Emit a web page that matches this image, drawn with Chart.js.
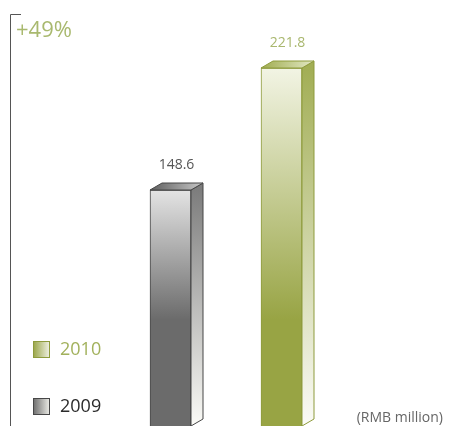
<!DOCTYPE html>
<html>
<head>
<meta charset="utf-8">
<script src="https://cdn.jsdelivr.net/npm/chart.js@4/dist/chart.umd.min.js"></script>
<style>
html, body { margin: 0; padding: 0; background: #fff; }
#wrap { width: 449px; height: 426px; position: relative; }
</style>
</head>
<body>
<div id="wrap"><canvas id="revenue"></canvas></div>
<script>
const years = ['2009', '2010'];
const revenue = [148.6, 221.8];
const growth_label = '+49%';
const unit_label = '(RMB million)';

const dark = ['#6b6b6b', '#98a444'];
const light = ['#e4e4e4', '#f2f4e4'];
const edge = ['#474747', '#8e9b3c'];
const side_top = ['#7d7d7d', '#a2ae55'];
const top_left = ['#5e5e5e', '#a0ac50'];
const top_right = ['#c8c8c8', '#e2e8c4'];
const label_color = ['#555555', '#a9b76e'];
const legend_text = ['#2b2b2b', '#a2b15c'];

const font = '"Open Sans", "Noto Sans", sans-serif';
const dx = 12, dy = 7;

function frontFill(ctx) {
    const chart = ctx.chart;
    const area = chart.chartArea;
    const i = ctx.dataIndex;
    if (!area) return dark[i];
    const top = chart.scales.y.getPixelForValue(ctx.raw);
    const g = chart.ctx.createLinearGradient(0, top, 0, area.top + area.height * 0.75);
    g.addColorStop(0, light[i]);
    g.addColorStop(1, dark[i]);
    return g;
}

// side and top faces, value labels
const depth = {
    id: 'depth',
    afterDatasetsDraw(chart) {
        const c = chart.ctx;
        const area = chart.chartArea;
        const meta = chart.getDatasetMeta(0);
        c.save();
        meta.data.forEach((bar, i) => {
            const left = bar.x - bar.width / 2;
            const right = bar.x + bar.width / 2;
            const top = bar.y;
            const bottom = area.bottom;

            let g = c.createLinearGradient(0, top, 0, bottom);
            g.addColorStop(0, side_top[i]);
            g.addColorStop(1, '#fbfbf7');
            c.beginPath();
            c.moveTo(right, top);
            c.lineTo(right + dx, top - dy);
            c.lineTo(right + dx, bottom - 7);
            c.lineTo(right, bottom);
            c.closePath();
            c.fillStyle = g;
            c.fill();
            c.lineWidth = 1;
            c.strokeStyle = edge[i];
            c.stroke();

            g = c.createLinearGradient(left, 0, right + dx, 0);
            g.addColorStop(0, top_left[i]);
            g.addColorStop(1, top_right[i]);
            c.beginPath();
            c.moveTo(left, top);
            c.lineTo(left + dx, top - dy);
            c.lineTo(right + dx, top - dy);
            c.lineTo(right, top);
            c.closePath();
            c.fillStyle = g;
            c.fill();
            c.stroke();

            c.fillStyle = label_color[i];
            c.font = '14px ' + font;
            c.textAlign = 'center';
            c.textBaseline = 'middle';
            c.fillText(revenue[i].toFixed(1), bar.x + dx / 2, top - 25);
        });
        c.restore();
    },
    afterDraw(chart) {
        const c = chart.ctx;
        c.save();
        // bracket axis
        c.strokeStyle = '#555';
        c.lineWidth = 1;
        c.beginPath();
        c.moveTo(21, 14.5);
        c.lineTo(10.5, 14.5);
        c.lineTo(10.5, 426);
        c.stroke();

        c.fillStyle = '#a9b96f';
        c.font = '22px ' + font;
        c.textAlign = 'left';
        c.textBaseline = 'alphabetic';
        c.fillText(growth_label, 16, 37);

        // legend, newest year on top
        const rows = [1, 0];
        rows.forEach((i, r) => {
            const y = 341 + r * 57;
            const g = c.createLinearGradient(33, 0, 51, 0);
            g.addColorStop(0, dark[i]);
            g.addColorStop(1, '#f6f6f0');
            c.fillStyle = g;
            c.fillRect(33, y, 17, 17);
            c.strokeStyle = edge[i];
            c.strokeRect(33.5, y + 0.5, 16, 16);
            c.fillStyle = legend_text[i];
            c.font = '18px ' + font;
            c.textBaseline = 'middle';
            c.fillText(years[i], 60, y + 9);
        });

        c.fillStyle = '#666';
        c.font = '14px ' + font;
        c.textAlign = 'right';
        c.textBaseline = 'alphabetic';
        c.fillText(unit_label, 443, 422);
        c.restore();
    }
};

new Chart(document.getElementById('revenue'), {
    type: 'bar',
    data: {
        labels: years,
        datasets: [{
            data: revenue,
            backgroundColor: frontFill,
            borderColor: edge,
            borderWidth: 1,
            barThickness: 41
        }]
    },
    options: {
        responsive: true,
        maintainAspectRatio: false,
        animation: false,
        layout: {
            padding: { left: 115, right: 112, top: 0, bottom: 0 }
        },
        plugins: {
            legend: { display: false },
            tooltip: { enabled: false }
        },
        scales: {
            x: { display: false },
            y: { display: false, min: 7, max: 262.6 }
        }
    },
    plugins: [depth]
});
</script>
</body>
</html>
